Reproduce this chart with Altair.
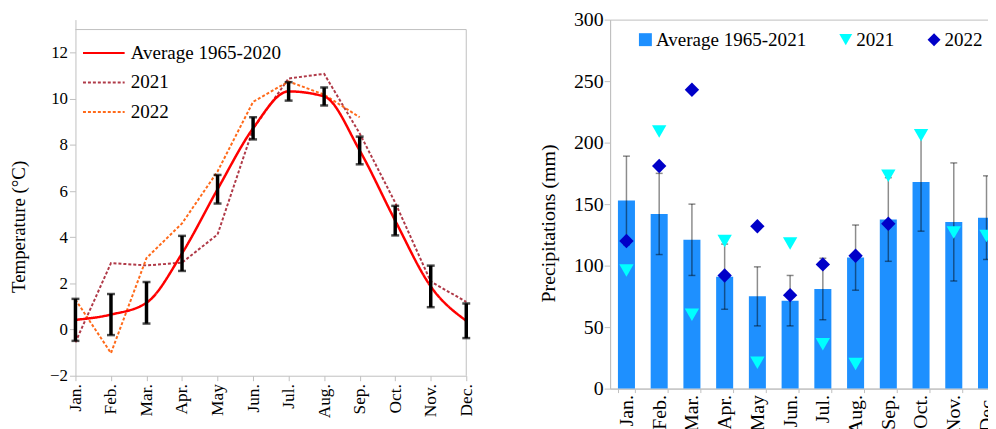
import altair as alt
import pandas as pd

FONT = "Liberation Serif, Times New Roman, Times, DejaVu Serif, serif"

months = ["Jan.", "Feb.", "Mar.", "Apr.", "May", "Jun.", "Jul.", "Aug.", "Sep.", "Oct.", "Nov.", "Dec."]

# Temperature (°C)
temp_avg = [0.42, 0.65, 1.16, 3.3, 6.08, 8.72, 10.32, 10.1, 7.76, 4.72, 1.87, 0.38]
temp_sd = [0.91, 0.89, 0.9, 0.76, 0.62, 0.48, 0.4, 0.39, 0.6, 0.64, 0.9, 0.75]
temp_2021 = [-0.55, 2.88, 2.78, 2.9, 4.12, 8.7, 10.88, 11.08, 8.5, 5.5, 2.08, 1.2]
temp_2022 = [1.3, -1.02, 3.1, 4.6, 6.85, 9.87, 10.75, 10.18, 9.2, None, None, None]

# Precipitations (mm)
prec_avg = [153, 142, 121, 91, 75, 71.5, 81, 106.5, 137.5, 168, 135.5, 139]
prec_sd = [36, 33, 29, 26.5, 24, 20.5, 25, 26.5, 34, 40, 48, 34]
prec_2021 = [96, 209, 60, 120, 21, 118, 36, 20, 173, 206, 127, 124]
prec_2022 = [120, 181, 243, 92, 132, 76, 101, 108, 134, None, None, None]

t_series = ["Average 1965-2020", "2021", "2022"]
t_colors = ["#FF0000", "#B03A48", "#FF6A1A"]
p_series = ["Average 1965-2021", "2021", "2022"]
p_colors = ["#1E90FF", "#00FFFF", "#0000C8"]

FRAME = "#BFBFBF"

# ---------- data frames ----------
t_avg_df = pd.DataFrame({"month": months, "temp": temp_avg, "sd": temp_sd, "series": t_series[0]})
t_year_df = pd.concat([
    pd.DataFrame({"month": months, "temp": temp_2021, "series": "2021"}),
    pd.DataFrame({"month": months, "temp": temp_2022, "series": "2022"}),
]).dropna()

p_avg_df = pd.DataFrame({"month": months, "prec": prec_avg, "sd": prec_sd, "series": p_series[0]})
p_year_df = pd.concat([
    pd.DataFrame({"month": months, "prec": prec_2021, "series": "2021"}),
    pd.DataFrame({"month": months, "prec": prec_2022, "series": "2022"}),
]).dropna()

# ---------- left: temperature ----------
t_xscale = alt.Scale(type="point", padding=0, domain=months)
tx = alt.X("month:O", sort=months, title=None, scale=t_xscale,
           axis=alt.Axis(labelAngle=270, tickSize=5, labelPadding=3, labelFontSize=17.5))
ty_scale = alt.Scale(domain=[-2, 13.43], nice=False)
ty_axis = alt.Axis(values=list(range(-2, 13, 2)), tickSize=6, labelPadding=2, titlePadding=21,
                   titleFontSize=19, titleY=208.5)

t_leg = alt.Legend(title=None, orient="none", legendX=19, legendY=24,
                   symbolType="M-4.2,0L4.2,0", symbolSize=100, symbolStrokeWidth=2,
                   labelOffset=17.5, rowPadding=9.8, labelFontSize=19.2, labelFont=FONT)
t_color = alt.Color("series:N", scale=alt.Scale(domain=t_series, range=t_colors), legend=t_leg)
t_dash = alt.StrokeDash("series:N", scale=alt.Scale(domain=t_series, range=[[1, 0], [3, 2], [3, 2]]), legend=t_leg)

frame_top = alt.Chart(pd.DataFrame({"a": ["Jan."], "b": ["Dec."], "v": [13]})).mark_rule(
    color=FRAME, strokeWidth=1).encode(
    x=alt.X("a:O", scale=t_xscale, sort=months), x2="b", y=alt.Y("v:Q", scale=ty_scale))
frame_right = alt.Chart(pd.DataFrame({"a": ["Dec."], "lo": [-2], "hi": [13]})).mark_rule(
    color=FRAME, strokeWidth=1).encode(
    x=alt.X("a:O", scale=t_xscale, sort=months), y=alt.Y("lo:Q", scale=ty_scale), y2="hi")

avg_line = alt.Chart(t_avg_df).mark_line(strokeWidth=2.5, interpolate="monotone").encode(
    x=tx, y=alt.Y("temp:Q", scale=ty_scale, axis=ty_axis, title="Temperature (°C)"),
    color=t_color, strokeDash=t_dash)
year_lines = alt.Chart(t_year_df).mark_line(strokeWidth=2).encode(
    x=tx, y=alt.Y("temp:Q", scale=ty_scale), color=t_color, strokeDash=t_dash,
    detail="series:N")

t_err_base = alt.Chart(t_avg_df).transform_calculate(
    lo="datum.temp - datum.sd", hi="datum.temp + datum.sd")
t_err = t_err_base.mark_rule(color="black", strokeWidth=3.5).encode(
    x=tx, y=alt.Y("lo:Q", scale=ty_scale), y2="hi:Q")
t_cap_lo = t_err_base.mark_tick(color="black", size=8, thickness=2.5).encode(
    x=tx, y=alt.Y("lo:Q", scale=ty_scale))
t_cap_hi = t_err_base.mark_tick(color="black", size=8, thickness=2.5).encode(
    x=tx, y=alt.Y("hi:Q", scale=ty_scale))

left = alt.layer(frame_top, frame_right, year_lines, avg_line, t_err, t_cap_lo, t_cap_hi,
                 view=alt.ViewBackground(stroke=None)).properties(width=394, height=359)

# ---------- right: precipitation ----------
px = alt.X("month:O", sort=months, title=None,
           scale=alt.Scale(paddingInner=0.48, paddingOuter=0.24),
           axis=alt.Axis(labelAngle=270, tickBand="extent", tickSize=4, labelPadding=2, labelFontSize=20))
py_scale = alt.Scale(domain=[0, 300], nice=False)
py_axis = alt.Axis(values=list(range(0, 301, 50)), tickSize=6, labelPadding=1, titlePadding=15,
                   titleFontSize=20, labelFontSize=20, titleY=205)

p_leg = alt.Legend(title=None, orient="none", direction="horizontal", columns=3,
                   legendX=26, legendY=10.5, symbolSize=170, symbolStrokeWidth=0,
                   labelOffset=1, columnPadding=30, labelFontSize=19.2, labelFont=FONT)
p_color = alt.Color("series:N", scale=alt.Scale(domain=p_series, range=p_colors), legend=p_leg)
p_shape = alt.Shape("series:N", scale=alt.Scale(domain=p_series, range=["square", "triangle-down", "diamond"]), legend=p_leg)

bars = alt.Chart(p_avg_df).mark_bar().encode(
    x=px, y=alt.Y("prec:Q", scale=py_scale, axis=py_axis, title="Precipitations (mm)"),
    color=p_color)

p_err_base = alt.Chart(p_avg_df).transform_calculate(
    lo="datum.prec - datum.sd", hi="datum.prec + datum.sd")
p_err = p_err_base.mark_rule(color="black", opacity=0.45, strokeWidth=1.5).encode(
    x=px, y=alt.Y("lo:Q", scale=py_scale), y2="hi:Q")
p_cap_lo = p_err_base.mark_tick(color="black", opacity=0.45, size=7, thickness=1.5).encode(
    x=px, y=alt.Y("lo:Q", scale=py_scale))
p_cap_hi = p_err_base.mark_tick(color="black", opacity=0.45, size=7, thickness=1.5).encode(
    x=px, y=alt.Y("hi:Q", scale=py_scale))

points = alt.Chart(p_year_df).mark_point(filled=True, opacity=1, size=210).encode(
    x=px, y=alt.Y("prec:Q", scale=py_scale), color=p_color, shape=p_shape)

right = alt.layer(bars, p_err, p_cap_lo, p_cap_hi, points,
                  view=alt.ViewBackground(stroke=FRAME)).properties(width=396, height=372)

chart = alt.hconcat(left, right, spacing=63).resolve_scale(
    color="independent", shape="independent", strokeDash="independent"
).resolve_legend(color="independent", shape="independent", strokeDash="independent").properties(
    autosize=alt.AutoSizeParams(type="none"),
    padding={"left": 68, "top": 10, "right": 920, "bottom": 411}
).configure_axis(
    labelFont=FONT, titleFont=FONT, labelFontSize=17, titleFontSize=17,
    titleFontWeight="normal", labelColor="black", titleColor="black",
    domainColor=FRAME, tickColor=FRAME, grid=False
).configure_legend(
    labelFont=FONT, labelFontSize=19.2, labelColor="black"
)

chart.save("out.html", embed_options={"renderer": "svg", "actions": False})
